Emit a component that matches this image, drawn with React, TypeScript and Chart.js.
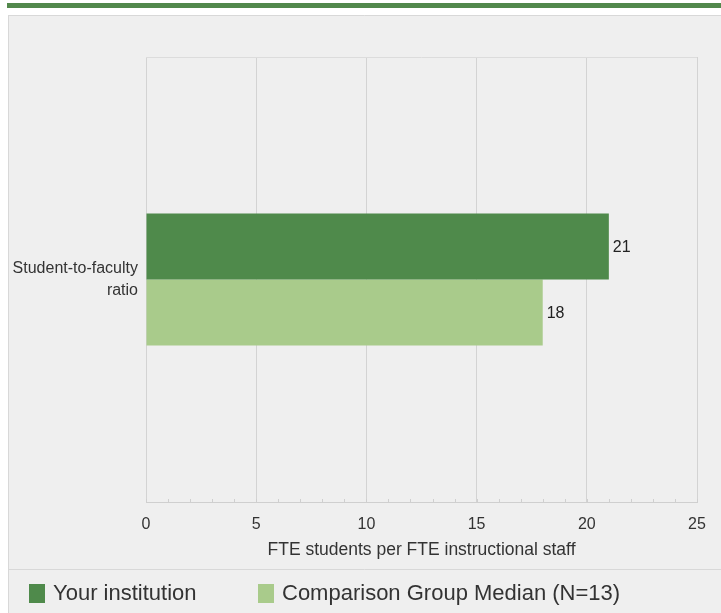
import React, { useEffect, useRef } from "react";
import { Chart, registerables } from "chart.js";

Chart.register(...registerables);

const categories: string[][] = [["Student-to-faculty", "ratio"]];
const seriesLabels = ["Your institution", "Comparison Group Median (N=13)"];
const yourInstitution = [21];
const comparisonMedian = [18];
const xTicks = [0, 5, 10, 15, 20, 25];
const axisTitle = "FTE students per FTE instructional staff";

const DARK = "#4f8a4b";
const LIGHT = "#a9cb8b";
const FONT = "'Liberation Sans', Arial, sans-serif";

const framePlugin = {
  id: "frame",
  beforeDraw(chart: any) {
    const ctx = chart.ctx;
    ctx.save();
    ctx.fillStyle = "#ffffff";
    ctx.fillRect(0, 0, chart.width, chart.height);
    ctx.fillStyle = "#52884c";
    ctx.fillRect(7, 3, chart.width - 7, 5);
    ctx.fillStyle = "#efefef";
    ctx.fillRect(8, 15, chart.width - 8, chart.height - 15);
    ctx.strokeStyle = "#d8d8d8";
    ctx.lineWidth = 1;
    ctx.beginPath();
    ctx.moveTo(8.5, 15);
    ctx.lineTo(8.5, chart.height);
    ctx.moveTo(8, 15.5);
    ctx.lineTo(chart.width, 15.5);
    ctx.moveTo(8, 569.5);
    ctx.lineTo(chart.width, 569.5);
    ctx.stroke();
    ctx.restore();
  },
  afterDraw(chart: any) {
    const ctx = chart.ctx;
    const xs = chart.scales.x;
    const area = chart.chartArea;
    ctx.save();
    // faint top edge of the plot
    ctx.strokeStyle = "#dcdcdc";
    ctx.lineWidth = 1;
    ctx.beginPath();
    ctx.moveTo(area.left, Math.round(area.top) + 0.5);
    ctx.lineTo(area.right, Math.round(area.top) + 0.5);
    ctx.stroke();
    // minor ticks on the axis line
    ctx.strokeStyle = "#cfcfcf";
    ctx.beginPath();
    for (let v = xs.min; v <= xs.max; v += 1) {
      const px = Math.round(xs.getPixelForValue(v)) + 0.5;
      ctx.moveTo(px, area.bottom - 3);
      ctx.lineTo(px, area.bottom);
    }
    ctx.stroke();
    // custom legend
    const legendX = [29, 258];
    ctx.font = `22px ${FONT}`;
    ctx.textBaseline = "middle";
    chart.data.datasets.forEach((ds: any, i: number) => {
      const x = legendX[i];
      ctx.fillStyle = ds.backgroundColor;
      ctx.fillRect(x, 584, 16, 19);
      ctx.fillStyle = "#333333";
      ctx.textAlign = "left";
      ctx.fillText(ds.label, x + 24, 594);
    });
    ctx.restore();
  },
};

const valueLabelPlugin = {
  id: "valueLabels",
  afterDatasetsDraw(chart: any) {
    const ctx = chart.ctx;
    ctx.save();
    ctx.font = `16px ${FONT}`;
    ctx.fillStyle = "#222222";
    ctx.textAlign = "left";
    ctx.textBaseline = "middle";
    chart.data.datasets.forEach((ds: any, di: number) => {
      const meta = chart.getDatasetMeta(di);
      meta.data.forEach((bar: any, i: number) => {
        ctx.fillText(String(ds.data[i]), bar.x + 4, bar.y + 1);
      });
    });
    ctx.restore();
  },
};

export default function App() {
  const ref = useRef<HTMLCanvasElement | null>(null);
  useEffect(() => {
    if (!ref.current) return;
    const chart = new Chart(ref.current, {
      type: "bar",
      data: {
        labels: categories,
        datasets: [
          { label: seriesLabels[0], data: yourInstitution, backgroundColor: DARK, barPercentage: 1, categoryPercentage: 0.297 },
          { label: seriesLabels[1], data: comparisonMedian, backgroundColor: LIGHT, barPercentage: 1, categoryPercentage: 0.297 },
        ],
      },
      options: {
        indexAxis: "y",
        responsive: false,
        animation: false,
        layout: { padding: { top: 57, right: 24, bottom: 52, left: 0 } },
        plugins: { legend: { display: false }, tooltip: { enabled: false } },
        scales: {
          x: {
            min: xTicks[0],
            max: xTicks[xTicks.length - 1],
            afterBuildTicks(scale: any) {
              scale.ticks = xTicks.map((v) => ({ value: v }));
            },
            afterFit(scale: any) {
              scale.height = 59;
            },
            grid: { color: "#d3d3d3", drawTicks: false },
            border: { color: "#cfcfcf" },
            ticks: { color: "#333333", padding: 13, font: { family: FONT, size: 16 } },
            title: {
              display: true,
              text: axisTitle,
              color: "#333333",
              font: { family: FONT, size: 17.5 },
              padding: { top: 2, bottom: 0 },
            },
          },
          y: {
            grid: { display: false, drawTicks: false },
            border: { display: false },
            ticks: { color: "#333333", padding: 8, font: { family: FONT, size: 16, lineHeight: 1.4 } },
            afterFit(scale: any) {
              scale.width = 146;
            },
          },
        },
      },
      plugins: [framePlugin, valueLabelPlugin],
    });
    return () => chart.destroy();
  }, []);
  return (
    <div style={{ position: "absolute", left: 0, top: 0, width: 721, height: 613 }}>
      <canvas ref={ref} width={721} height={613} style={{ display: "block" }} />
    </div>
  );
}
